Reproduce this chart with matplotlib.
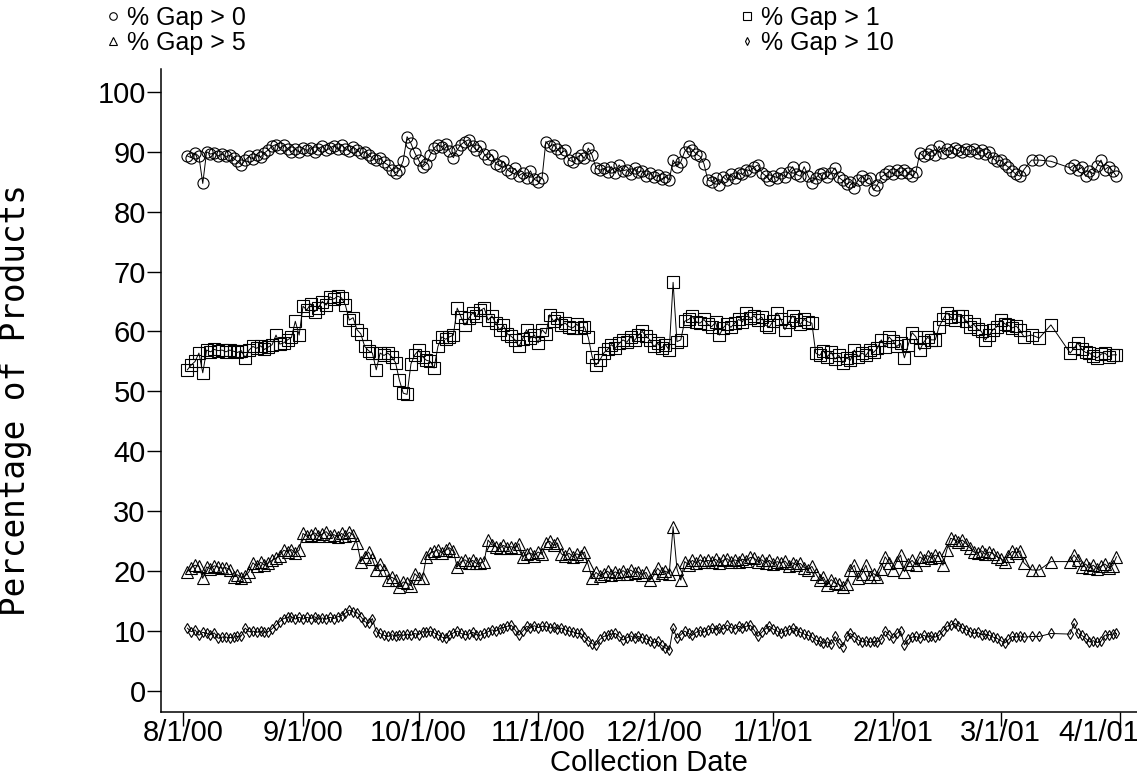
import matplotlib
matplotlib.use("Agg")
import matplotlib.pyplot as plt
import matplotlib.transforms as mtransforms
import pandas as pd

plt.rcParams['font.family'] = ['Liberation Sans', 'DejaVu Sans']

# collection dates: daily 8/2/00 - 3/7/01, then a few sparse days in March
dates = list(pd.date_range('2000-08-02', '2001-03-07')) + \
    [pd.Timestamp(d) for d in ['2001-03-09', '2001-03-11', '2001-03-14']] + \
    list(pd.date_range('2001-03-19', '2001-03-31'))

gap0 = [89.3, 89.0, 89.8, 89.2, 84.7, 90.0, 89.6, 89.8, 89.3, 89.6,
        89.2, 89.4, 88.9, 88.4, 87.8, 88.6, 89.2, 88.8, 89.5, 89.1,
        89.8, 90.3, 90.9, 91.2, 90.6, 91.1, 90.5, 90.0, 90.4, 89.9,
        90.6, 90.2, 90.7, 89.9, 90.5, 90.9, 90.2, 90.6, 91.0, 90.4,
        91.2, 90.5, 90.1, 90.8, 90.3, 89.7, 90.0, 89.4, 89.0, 88.6,
        88.9, 88.2, 87.8, 87.0, 86.5, 86.9, 88.5, 92.5, 91.4, 89.8,
        88.6, 87.4, 88.0, 89.5, 90.6, 91.2, 90.8, 91.3, 90.1, 89.0,
        90.3, 91.2, 91.7, 92.0, 91.0, 90.2, 90.9, 89.6, 88.8, 89.5,
        88.0, 87.6, 88.4, 87.0, 86.5, 87.2, 86.0, 86.4, 85.6, 86.8,
        85.4, 85.0, 85.6, 91.7, 90.9, 91.2, 90.4, 89.8, 90.2, 88.6,
        88.3, 89.0, 89.5, 88.9, 90.6, 89.4, 87.3, 86.9, 87.2, 86.6,
        87.5, 86.4, 87.8, 86.8, 87.0, 86.3, 87.3, 86.6, 86.8, 85.9,
        86.5, 85.7, 86.1, 85.4, 85.8, 85.3, 88.6, 87.5, 88.3, 90.0,
        90.9, 90.3, 89.6, 89.2, 88.0, 85.3, 85.0, 85.6, 84.5, 85.8,
        85.2, 86.3, 85.6, 86.5, 86.2, 87.0, 86.8, 87.4, 87.8, 86.5,
        86.0, 85.3, 86.0, 85.6, 86.4, 85.8, 86.6, 87.5, 86.2, 85.9,
        87.5, 86.0, 84.8, 85.6, 86.3, 86.5, 85.8, 86.4, 87.3, 85.7,
        85.2, 84.6, 85.0, 84.0, 85.3, 86.0, 85.2, 85.6, 83.6, 84.5,
        85.8, 86.2, 86.7, 86.3, 86.9, 86.5, 87.0, 86.4, 86.0, 86.6,
        89.8, 89.2, 89.6, 90.2, 89.4, 90.9, 89.8, 90.4, 90.0, 90.6,
        90.2, 89.9, 90.5, 90.1, 90.4, 89.8, 90.3, 89.6, 89.9, 88.9,
        88.4, 88.6, 87.9, 87.4, 86.8, 86.2, 85.9, 87.0,
        88.6, 88.6, 88.4,
        87.3, 87.8, 86.9, 87.4, 85.9, 86.8, 86.3, 87.6, 88.6, 87.0, 87.5, 86.8, 85.9]

gap1 = [53.6, 54.4, 55.0, 56.4, 53.1, 56.9, 56.6, 57.0, 56.8, 56.9,
        56.6, 56.9, 56.7, 56.5, 56.8, 55.6, 56.9, 57.5, 57.2, 57.6,
        57.0, 57.4, 57.8, 59.4, 57.9, 58.1, 58.6, 59.0, 61.7, 59.4,
        64.2, 63.6, 64.6, 63.3, 64.0, 65.0, 64.4, 65.8, 65.4, 65.9,
        65.6, 64.4, 61.9, 62.3, 60.3, 59.6, 57.5, 56.8, 56.4, 53.6,
        56.4, 56.0, 56.4, 55.8, 54.8, 51.9, 49.7, 49.5, 54.6, 56.1,
        56.9, 55.8, 55.2, 55.0, 53.9, 57.5, 59.1, 58.7, 59.1, 59.4,
        63.9, 62.4, 61.1, 62.2, 63.1, 62.5, 63.5, 63.9, 61.9, 62.6,
        61.4, 60.3, 61.0, 59.6, 59.2, 58.6, 57.5, 58.8, 60.3, 58.9,
        59.4, 58.1, 60.3, 59.6, 62.8, 61.7, 62.3, 61.0, 61.4, 60.8,
        60.6, 61.2, 60.6, 60.8, 59.0, 55.8, 54.4, 55.2, 56.4, 57.0,
        57.8, 57.2, 58.0, 58.6, 58.2, 59.1, 58.5, 59.4, 60.0, 59.2,
        58.6, 57.5, 58.0, 57.3, 57.8, 56.9, 68.2, 58.3, 58.6, 61.7,
        62.0, 62.5, 61.6, 61.4, 62.0, 61.2, 60.8, 61.5, 59.4, 60.6,
        61.3, 60.7, 61.4, 62.0, 61.6, 63.1, 62.2, 62.6, 61.9, 62.4,
        61.0, 60.8, 61.8, 63.1, 62.0, 60.3, 61.5, 62.6, 61.9, 61.2,
        62.0, 61.6, 61.4, 56.4, 56.0, 56.8, 55.8, 56.5, 55.4, 56.0,
        54.8, 55.6, 55.2, 56.9, 55.8, 56.4, 56.0, 56.9, 56.5, 57.2,
        58.6, 57.4, 59.1, 58.4, 57.5, 58.0, 55.6, 57.8, 59.8, 59.1,
        56.9, 58.2, 59.0, 58.6, 58.6, 60.8, 62.0, 63.1, 62.4, 61.9,
        62.6, 62.5, 61.8, 60.8, 61.2, 60.4, 60.0, 58.6, 59.4, 60.3,
        60.8, 61.9, 61.3, 61.0, 60.6, 60.9, 60.2, 59.1,
        59.4, 58.9, 61.1,
        56.4, 57.2, 58.1, 57.0, 56.5, 56.4, 55.9, 55.6, 56.2, 56.4, 55.8, 56.1, 56.1]

gap5 = [19.9, 20.6, 21.0, 20.8, 18.8, 20.7, 20.4, 20.9, 20.7, 20.5,
        20.6, 20.2, 19.1, 19.4, 18.9, 19.2, 19.9, 21.4, 20.8, 21.5,
        21.0, 21.4, 21.8, 22.2, 22.6, 23.5, 23.2, 23.6, 23.0, 23.5,
        26.3, 25.8, 26.0, 26.4, 25.8, 26.2, 26.6, 25.9, 26.1, 25.7,
        26.3, 25.8, 26.5, 26.0, 24.7, 21.6, 22.4, 23.2, 22.0, 20.2,
        21.2, 20.2, 18.5, 19.0, 18.6, 17.4, 18.2, 18.0, 17.6, 19.6,
        18.9, 18.8, 22.4, 23.0, 23.3, 23.6, 23.1, 23.5, 23.9, 23.3,
        20.7, 21.6, 21.9, 21.4, 21.8, 21.3, 21.4, 21.6, 25.2, 24.4,
        24.1, 23.8, 24.3, 23.9, 24.1, 23.8, 24.6, 22.4, 22.8, 23.0,
        22.6, 23.2, 22.8, 24.7, 25.0, 24.3, 24.7, 22.9, 22.5, 23.0,
        22.4, 22.9, 22.6, 23.2, 21.0, 18.8, 19.8, 19.2, 19.6, 20.0,
        19.4, 19.9, 19.5, 20.1, 19.6, 20.2, 19.7, 19.9, 19.4, 19.8,
        18.5, 19.3, 20.5, 19.7, 20.0, 19.6, 27.4, 20.4, 18.5, 21.6,
        21.1, 21.8, 21.3, 21.9, 21.5, 21.8, 21.6, 22.0, 21.4, 21.8,
        22.1, 21.5, 21.9, 21.6, 22.0, 21.7, 22.3, 22.2, 21.6, 21.9,
        21.4, 21.8, 21.2, 21.6, 21.3, 21.7, 20.9, 21.4, 21.0, 21.3,
        20.6, 20.2, 20.8, 19.6, 18.5, 19.0, 17.7, 18.6, 18.0, 17.8,
        17.4, 17.9, 20.2, 21.0, 18.8, 19.6, 21.0, 19.1, 19.6, 19.1,
        20.4, 22.4, 21.4, 20.2, 21.6, 22.7, 19.9, 21.2, 21.8, 21.0,
        22.4, 21.9, 22.6, 22.2, 22.7, 22.4, 21.0, 23.6, 25.5, 25.2,
        24.8, 25.2, 24.6, 23.9, 23.2, 23.0, 23.4, 22.8, 23.2, 22.9,
        22.4, 22.1, 21.6, 22.6, 23.3, 23.0, 23.4, 21.4,
        20.2, 20.2, 21.6,
        21.6, 22.7, 21.8, 20.7, 21.2, 20.5, 21.0, 20.4, 20.8, 21.2, 20.6, 20.9, 22.4]

gap10 = [10.5, 9.9, 10.2, 9.3, 9.8, 9.6, 9.4, 9.7, 8.8, 9.0,
         9.0, 8.9, 9.0, 9.1, 9.2, 10.5, 9.9, 10.0, 9.8, 10.0,
         9.8, 9.9, 10.4, 11.0, 11.6, 12.1, 12.3, 12.4, 12.0, 12.3,
         12.0, 12.3, 12.1, 12.4, 12.0, 12.2, 12.0, 12.3, 12.1, 12.4,
         12.6, 13.0, 13.5, 13.2, 13.1, 12.4, 11.6, 11.3, 12.1, 9.9,
         9.6, 9.3, 9.1, 9.4, 9.2, 9.4, 9.3, 9.5, 9.3, 9.6,
         9.4, 9.9, 9.8, 10.0, 9.7, 9.4, 9.0, 8.8, 9.3, 9.7,
         10.0, 9.6, 9.4, 9.5, 9.8, 9.4, 9.3, 9.6, 9.9, 10.2,
         10.0, 10.4, 10.6, 10.8, 11.0, 10.2, 9.3, 10.0, 10.8, 10.5,
         10.9, 10.6, 10.8, 10.8, 10.5, 10.7, 10.4, 10.5, 10.2, 10.0,
         9.9, 9.6, 9.6, 9.0, 8.4, 7.9, 7.7, 8.6, 9.1, 9.3,
         9.5, 9.6, 9.1, 8.5, 8.9, 9.2, 8.8, 9.1, 8.9, 8.7,
         8.4, 8.0, 8.3, 7.6, 7.2, 6.8, 10.5, 8.8, 9.4, 10.0,
         9.6, 9.3, 9.8, 10.1, 9.8, 10.2, 10.5, 10.2, 10.6, 10.3,
         11.0, 10.6, 10.4, 10.8, 10.5, 10.8, 11.0, 10.2, 9.1, 9.8,
         10.4, 10.8, 10.3, 10.0, 9.6, 10.0, 10.2, 10.5, 10.1, 9.8,
         9.5, 9.3, 9.0, 8.5, 8.3, 8.0, 8.2, 7.8, 9.1, 8.0,
         7.4, 9.1, 9.6, 9.0, 8.5, 8.2, 8.4, 8.1, 8.3, 8.2,
         8.6, 10.0, 9.4, 8.8, 9.6, 10.0, 7.7, 8.6, 9.0, 9.1,
         8.8, 9.3, 9.0, 9.2, 9.0, 9.3, 10.0, 10.8, 11.0, 11.3,
         10.9, 10.5, 10.2, 9.9, 9.6, 9.8, 9.4, 9.5, 9.3, 9.0,
         8.8, 8.4, 8.0, 8.6, 9.1, 9.0, 9.2, 9.0,
         9.1, 9.1, 9.6,
         9.5, 11.3, 9.6, 9.3, 8.8, 8.2, 8.4, 8.1, 8.3, 9.3, 9.4, 9.5, 9.6]

tick_labels = ['8/1/00', '9/1/00', '10/1/00', '11/1/00', '12/1/00',
               '1/1/01', '2/1/01', '3/1/01', '4/1/01']
yticks = [0, 10, 20, 30, 40, 50, 60, 70, 80, 90, 100]


def gap_chart():
    fig = plt.figure(figsize=(11.37, 7.75), dpi=100)
    ax = fig.add_axes([161 / 1137, 1 - 712 / 775, 976 / 1137, (712 - 69) / 775])

    # data, marker, size, label
    series = [(gap0, 'o', 8.0, '% Gap > 0'),
              (gap1, 's', 8.2, '% Gap > 1'),
              (gap5, '^', 8.6, '% Gap > 5'),
              (gap10, 'd', 5.4, '% Gap > 10')]
    handles = {}
    for vals, mk, ms, lab in series:
        h, = ax.plot(dates, vals, color='black', linewidth=0.7,
                     marker=mk, markersize=ms, markerfacecolor='none',
                     markeredgecolor='black', markeredgewidth=0.8, label=lab)
        handles[lab] = h

    ax.set_ylim(-3.5, 103.8)
    ax.set_xlim(pd.Timestamp('2000-07-26 04:00'), pd.Timestamp('2001-04-05 08:00'))
    ax.set_yticks(yticks)
    ax.set_xticks([pd.to_datetime(t, format='%m/%d/%y') for t in tick_labels])
    ax.set_xticklabels(tick_labels)

    for s in ['top', 'right']:
        ax.spines[s].set_visible(False)
    for s in ['left', 'bottom']:
        ax.spines[s].set_linewidth(1.1)
    ax.tick_params(axis='both', direction='out', length=10, width=1.0,
                   labelsize=21)
    ax.tick_params(axis='x', pad=-5)
    ax.tick_params(axis='y', pad=1)

    # last date label is pushed left so it stays inside the picture
    last = ax.get_xticklabels()[-1]
    last.set_transform(last.get_transform() +
                       mtransforms.ScaledTranslation(-22 / 100, 0, fig.dpi_scale_trans))

    ax.set_xlabel('Collection Date', fontsize=21)
    # the original y title is widely spaced; a monospaced sans gets close
    ax.set_ylabel('Percentage of Products', fontsize=23.5,
                  family=['DejaVu Sans Mono', 'DejaVu Sans'])
    ax.xaxis.set_label_coords(0.5, -0.057)
    ax.yaxis.set_label_coords(-0.132, 0.485)

    order = ['% Gap > 0', '% Gap > 5', '% Gap > 1', '% Gap > 10']
    leg = fig.legend([handles[k] for k in order], order, ncol=2,
                     loc='upper left', bbox_to_anchor=(92 / 1137, 1.012),
                     frameon=False, fontsize=18, handlelength=0.5,
                     handletextpad=0.3, labelspacing=0.05, columnspacing=19.8,
                     borderpad=0.1, markerscale=0.68)
    for h in leg.legend_handles:
        h.set_linestyle('none')

    fig.savefig('out.png', dpi=100)


if __name__ == '__main__':
    gap_chart()
